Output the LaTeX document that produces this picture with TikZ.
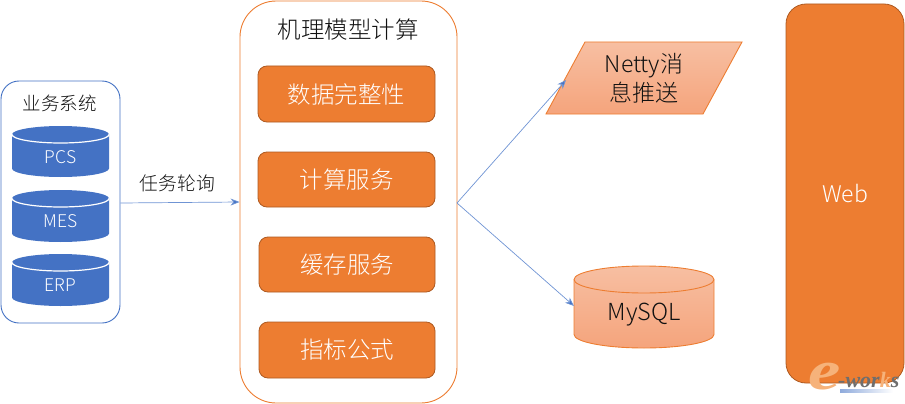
\documentclass[tikz,border=0pt]{standalone}
\usepackage{fontspec}
\usetikzlibrary{arrows.meta}
\setmainfont{Noto Sans CJK SC Light}
\newfontfamily\wmfont{Liberation Serif}
\definecolor{blueM}{HTML}{4472C4}
\definecolor{orangeM}{HTML}{ED7D31}
\definecolor{orangeD}{HTML}{AE5A21}
\definecolor{arrowC}{HTML}{6F94D4}
\definecolor{peachT}{HTML}{F7BFA2}
\definecolor{peachB}{HTML}{F5A47C}
\definecolor{txt}{HTML}{111111}
\definecolor{wmgray}{HTML}{6E6E6E}
\definecolor{wmorange}{HTML}{F6B27A}
\tikzset{
  x=1pt,y=-1pt,
  container/.style={draw=#1,line width=0.9pt,fill=white},
  orangebox/.style={draw=orangeD,line width=0.8pt,fill=orangeM,rounded corners=9pt},
  boxlabel/.style={text=white,font=\fontsize{23.5}{26}\selectfont,inner sep=0pt},
  title/.style={text=txt,inner sep=0pt},
  flow/.style={draw=arrowC,line width=0.7pt,-{Stealth[length=9pt,width=7pt,fill=blueM]}},
  peach/.style={draw=orangeM,line width=0.9pt,top color=peachT,bottom color=peachB,shading angle=0},
}
% \cyl{name}{cx}{top}{bottom}{rx}{ry}{body style}{rim colour}{text}
\newcommand{\cyl}[9]{%
  \path[#7] (#2-#5,#3+#6) arc[start angle=180,end angle=0,x radius=#5,y radius=-#6]
     -- (#2+#5,#4-#6) arc[start angle=0,end angle=-180,x radius=#5,y radius=-#6] -- cycle;
  \draw[#8] (#2-#5,#3+#6) arc[start angle=180,end angle=360,x radius=#5,y radius=-#6];
  \node[inner sep=0pt,minimum width=2*#5,minimum height=#4-#3] (#1) at (#2,{(#3+#4)/2}) {};
  \node[inner sep=0pt] (#1-label) at (#2,{(#3+#4)/2+#6/2+1}) {#9};
}
\begin{document}
\begin{tikzpicture}
\useasboundingbox (0,0) rectangle (905,404);
% containers
\node[container=blueM,rounded corners=18pt,minimum width=119pt,minimum height=242pt,inner sep=0pt] (sys) at (60.5,202) {};
\node[container=orangeM,rounded corners=36pt,minimum width=217pt,minimum height=402pt,inner sep=0pt] (model) at (348.5,202) {};
\node[title,font=\fontsize{18.5}{22}\selectfont] (systitle) at (60,103) {业务系统};
\node[title,font=\fontsize{23.5}{26}\selectfont] (modeltitle) at (348,30) {机理模型计算};
% source cylinders
\cyl{pcs}{60.5}{126}{177}{48.5}{8.5}{fill=blueM}{draw=white,line width=1.2pt}{\textcolor{white}{\fontsize{17.5}{20}\selectfont PCS}}
\cyl{mes}{60.5}{190}{242}{48.5}{8.5}{fill=blueM}{draw=white,line width=1.2pt}{\textcolor{white}{\fontsize{17.5}{20}\selectfont MES}}
\cyl{erp}{60.5}{254}{306}{48.5}{8.5}{fill=blueM}{draw=white,line width=1.2pt}{\textcolor{white}{\fontsize{17.5}{20}\selectfont ERP}}
% model boxes
\node[orangebox,minimum width=177pt,minimum height=56pt,inner sep=0pt] (b1) at (346.5,94) {};
\node[boxlabel] at (b1) {数据完整性};
\node[orangebox,minimum width=177pt,minimum height=55pt,inner sep=0pt] (b2) at (346.5,179.5) {};
\node[boxlabel] at (b2) {计算服务};
\node[orangebox,minimum width=176pt,minimum height=55pt,inner sep=0pt] (b3) at (347,264.5) {};
\node[boxlabel] at (b3) {缓存服务};
\node[orangebox,minimum width=176pt,minimum height=56pt,inner sep=0pt] (b4) at (347,350) {};
\node[boxlabel] at (b4) {指标公式};
% parallelogram
\path[peach] (585,42) -- (742,42) -- (703,114) -- (546,114) -- cycle;
\node[inner sep=0pt,minimum width=118pt,minimum height=72pt] (netty) at (644,78) {};
\node[title,align=center,font=\fontsize{23}{29}\selectfont] at (644,78) {Netty消\\息推送};
% mysql
\cyl{mysql}{644}{266}{348}{70}{13.5}{peach}{draw=orangeM,line width=0.9pt}{\raisebox{-2pt}{\textcolor{txt}{\fontsize{23.5}{26}\selectfont MySQL}}}
% web
\node[orangebox,rounded corners=20pt,minimum width=118pt,minimum height=379pt,inner sep=0pt] (web) at (845,193.5) {};
\node[boxlabel,font=\fontsize{23}{26}\selectfont] at (web) {Web};
% connectors
\coordinate (outR) at (457,203);
\draw[flow] (sys.east |- 0,203) -- (model.west |- 0,202);
\node[inner sep=0pt,text=txt,font=\fontsize{18.8}{22}\selectfont] (polllabel) at (177.5,183) {任务轮询};
\coordinate (nettyIn) at (566,80);
\coordinate (mysqlIn) at (574,306);
\draw[flow] (outR) -- (nettyIn);
\draw[flow] (outR) -- (mysqlIn);
% watermark
\node[inner sep=0pt,text=wmorange,xscale=1.3,font=\wmfont\bfseries\itshape\fontsize{56}{56}\selectfont] (wme) at (825,377) {e};
\node[inner sep=0pt,anchor=west,text=wmgray,font=\wmfont\bfseries\itshape\fontsize{22}{22}\selectfont] (wmt) at (838,380) {-wor\textcolor{wmorange}{k}s};
\shade[left color=blueM!60,right color=white] (840,389) rectangle (893,392);
\end{tikzpicture}
\end{document}
